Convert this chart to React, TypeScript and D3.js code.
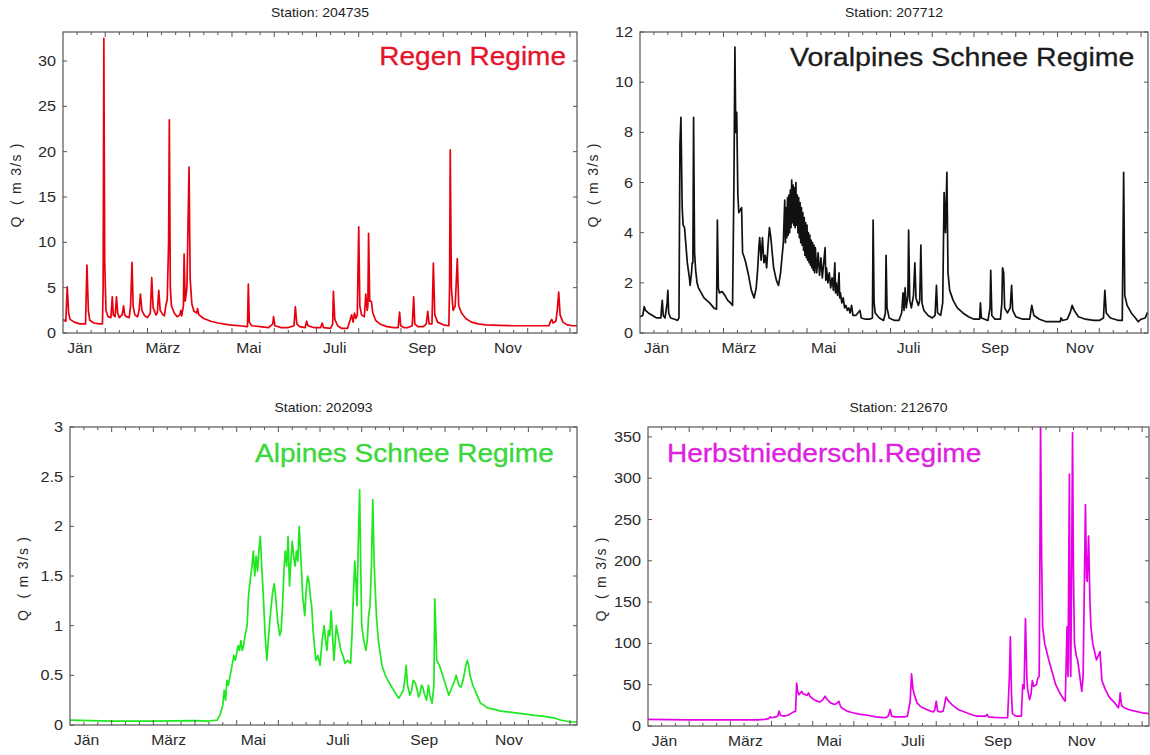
import React, { useEffect, useRef } from 'react';
import * as d3 from 'd3';

// day of year where each month starts, and the months that get a label
const monthStarts = [0, 31, 59, 90, 120, 151, 181, 212, 243, 273, 304, 334];
const monthLabels = ['Jän', 'März', 'Mai', 'Juli', 'Sep', 'Nov'];
const labelMonthIdx = [0, 2, 4, 6, 8, 10];

// [day of year, Q in m3/s]
const regenFlow: [number, number][] = [
  [0, 1.5], [2, 1.3], [3, 5.1], [4, 2.2], [5, 1.5], [8, 1.2], [12, 1.0], [16, 1.0], [17, 7.5], [18, 2.5], [19, 1.4],
  [22, 1.1], [26, 1.0], [28, 1.0], [28.5, 5], [29, 32.5], [29.6, 8], [30.5, 2.5], [32, 1.8], [34, 1.7], [35, 4.0],
  [35.7, 2.0], [37, 1.8], [38, 4.0], [38.8, 2.2], [40, 1.7], [42, 2.0], [43, 3.0], [43.8, 2.0], [45, 1.8], [47, 1.7],
  [48, 3], [49, 7.8], [49.8, 3], [51, 2], [53, 1.8], [54, 2.5], [55, 4.3], [56, 2.5], [58, 1.9], [60, 1.7], [62, 2.2],
  [63, 6.1], [64, 2.8], [66, 2.0], [67, 2.2], [68, 4.7], [69, 2.5], [71, 2.0], [72, 1.9], [73, 3], [74, 3.7], [75, 10],
  [75.5, 23.5], [76.2, 5], [77, 3], [79, 2.2], [81, 1.8], [83, 2.0], [83.7, 2.5], [84.3, 1.9], [85.5, 3], [86, 8.7],
  [86.8, 3.5], [88, 5], [89.5, 18.3], [90.3, 6], [91.5, 3.2], [93, 2.4], [95, 2.2], [95.5, 2.7], [96.5, 2.0], [100, 1.6],
  [105, 1.3], [110, 1.1], [118, 0.9], [125, 0.8], [131, 0.7], [131.6, 5.4], [132.3, 1.2], [134, 0.8], [140, 0.7],
  [146, 0.6], [149, 1.0], [149.5, 1.8], [150.5, 0.8], [155, 0.6], [160, 0.6], [164, 0.8], [165, 2.9], [166, 1.0],
  [168, 0.7], [172, 0.6], [173, 1.3], [174, 0.8], [178, 0.6], [183, 0.6], [184, 1.1], [185, 0.6], [190, 0.5],
  [191.5, 1], [192, 4.6], [193, 1.5], [195, 0.8], [198, 0.5], [202, 0.5], [204, 1.5], [205, 2.0], [206, 1.2],
  [207, 2.2], [208, 1.6], [209, 2], [209.5, 7], [210, 11.7], [210.8, 3], [212, 2], [214, 1.8], [215, 4.3], [216, 2.5],
  [216.5, 3], [217, 11.0], [217.8, 3.5], [219, 3.5], [220, 2.2], [222, 1.4], [225, 1.0], [230, 0.7], [235, 0.6],
  [238, 0.6], [239, 2.3], [239.8, 0.8], [242, 0.6], [245, 0.6], [248, 0.8], [249, 4.0], [249.8, 1.0], [252, 0.7],
  [256, 0.7], [258, 1.0], [259, 2.4], [260, 1.0], [262, 1.0], [263, 7.7], [264, 2], [266, 1.2], [270, 0.9], [274, 0.8],
  [274.5, 5], [275, 20.2], [275.8, 5], [277, 2.5], [278.5, 3], [280, 8.2], [281, 3], [283, 2.2], [286, 1.6],
  [290, 1.2], [295, 1.0], [300, 0.9], [310, 0.85], [320, 0.8], [330, 0.8], [340, 0.8], [345, 0.8], [346, 1.2],
  [347, 1.5], [348, 1.1], [350, 1.3], [351, 2.5], [352, 4.5], [353, 2.0], [355, 1.2], [358, 0.9], [362, 0.8], [365, 0.8]
];

const voralpFlow: [number, number][] = [
  [0, 0.65], [2, 0.7], [3, 1.05], [4, 0.9], [6, 0.8], [9, 0.7], [12, 0.6], [15, 0.6], [15.5, 1.0], [16, 1.3],
  [16.7, 0.7], [18, 0.6], [19.5, 1.2], [20, 1.7], [20.6, 0.8], [22, 0.6], [25, 0.55], [27, 0.5], [28, 0.6],
  [28.7, 7.5], [29.4, 8.6], [30.3, 5], [31, 4.3], [32, 4.2], [33, 3.5], [34, 2.8], [35.5, 2.2], [36, 1.9], [37, 2.4],
  [37.5, 2.8], [38, 2.8], [38.5, 8.6], [39.2, 3.2], [40, 2.5], [41, 2.0], [42, 1.8], [44, 1.6], [46, 1.4], [50, 1.2],
  [53, 1.0], [55, 0.95], [55.6, 4.5], [56.3, 1.8], [57, 1.6], [59, 1.65], [61, 1.5], [63, 1.3], [65, 1.2], [66.5, 1.1],
  [67.5, 6], [68.2, 11.4], [68.8, 8], [69.5, 8.8], [70.3, 5.5], [71, 4.8], [72, 4.9], [73, 5.0], [73.7, 3.2], [75, 3.0],
  [76, 2.8], [78, 2.3], [80, 1.7], [82, 1.4], [83.5, 1.8], [84.5, 2.5], [85.5, 3.5], [86, 3.8], [87, 2.9], [88, 3.8],
  [89, 2.8], [90, 3.1], [91, 2.6], [92, 3.5], [93, 4.2], [94, 3.8], [95, 3.2], [96, 2.6], [98, 2.1], [99.5, 1.9],
  [101, 2.4], [102, 3.0], [103, 3.6],
  [104, 5.3], [104.5, 3.6], [105, 5.0], [105.5, 3.8], [106, 5.4], [106.5, 3.9], [107, 5.5], [107.5, 4.0], [108, 5.7],
  [108.5, 4.2], [109, 6.1], [109.5, 4.4], [110, 5.9], [110.5, 4.3], [111, 5.8], [111.5, 4.2], [112, 6.0], [112.5, 4.3],
  [113, 5.5], [113.5, 4.0], [114, 5.4], [114.5, 3.8], [115, 5.2], [115.5, 3.6], [116, 5.0], [116.5, 3.5], [117, 4.8],
  [117.5, 3.3], [118, 4.6], [118.5, 3.1], [119, 4.4], [119.5, 3.0], [120, 4.3], [120.5, 2.9], [121, 4.0], [121.5, 2.8],
  [122, 3.9], [122.5, 2.7], [123, 3.7], [123.5, 2.6], [124, 3.6], [124.5, 2.5], [125, 3.5], [125.5, 2.4],
  [126, 3.4], [127, 2.4], [128, 3.2], [129, 2.3], [130, 3.0], [131, 2.2], [132, 2.8], [133, 3.4], [133.5, 2.1],
  [134, 2.6], [135, 2.0], [136, 2.4], [137, 1.8], [138, 2.2], [139, 1.7], [140, 2.8], [140.5, 1.6], [141, 2.0],
  [142, 1.5], [143, 2.4], [143.5, 1.4], [144, 1.6], [145, 1.2], [146, 1.4], [147, 1.0], [148, 1.1], [149, 0.9],
  [150, 1.0], [151, 0.8], [152, 1.1], [153, 0.7], [155, 0.7], [158, 0.9], [159, 0.6], [162, 0.55], [165, 0.55],
  [167, 0.6], [167.5, 4.5], [168.2, 1.2], [169, 0.8], [172, 0.6], [175, 0.5], [176.3, 0.8], [176.8, 3.1], [177.5, 1.0],
  [179, 0.6], [183, 0.5], [186, 0.5], [188, 0.8], [189, 1.6], [189.7, 0.9], [190.5, 1.8], [191.3, 1.0], [192.5, 1.5],
  [193, 4.1], [193.8, 1.3], [195, 1.0], [196.5, 1.5], [197.5, 2.8], [198.3, 1.4], [200, 1.1], [201, 1.3], [201.8, 3.5],
  [202.6, 1.2], [204, 0.9], [207, 0.7], [210, 0.6], [212, 0.7], [213, 1.9], [213.8, 0.8], [216, 0.7], [217.5, 1.2],
  [218.5, 5.6], [219.5, 4.0], [220.5, 6.4], [221.3, 2.4], [222.5, 1.7], [225, 1.3], [228, 1.0], [232, 0.8],
  [236, 0.65], [240, 0.55], [244, 0.55], [244.6, 1.2], [245.3, 0.6], [250, 0.5], [251.5, 1.0], [252, 2.5],
  [252.8, 0.7], [255, 0.55], [259, 0.55], [260, 1.2], [260.5, 2.6], [261.3, 2.4], [262, 1.0], [264, 0.8], [266, 1.0],
  [267, 1.9], [267.8, 0.9], [270, 0.65], [275, 0.55], [280, 0.55], [281.5, 1.1], [283, 0.7], [287, 0.55], [292, 0.45],
  [298, 0.45], [302, 0.45], [302.5, 0.6], [303.5, 0.5], [307, 0.55], [309, 0.8], [310.5, 1.1], [312, 0.9],
  [315, 0.65], [320, 0.55], [326, 0.5], [330, 0.5], [333, 0.6], [334, 1.7], [335, 0.8], [338, 0.6], [344, 0.5],
  [346.5, 0.5], [347.5, 6.4], [348.3, 1.5], [350, 1.1], [353, 0.8], [356, 0.6], [358, 0.45], [360, 0.55], [363, 0.6],
  [364.5, 0.8], [365, 0.75]
];

const alpinFlow: [number, number][] = [
  [0, 0.05], [30, 0.04], [60, 0.04], [90, 0.045], [100, 0.04], [106, 0.05], [108, 0.1], [110, 0.2], [111, 0.35],
  [112, 0.25], [113, 0.45], [114, 0.4], [116, 0.55], [118, 0.7], [119, 0.65], [121, 0.8], [122, 0.75], [123, 0.85],
  [124, 0.75], [125, 0.8], [126, 0.9], [127.5, 1.0], [128.5, 1.3], [129.7, 1.45], [131, 1.6], [132, 1.75], [133, 1.5],
  [134, 1.7], [135, 1.55], [136, 1.75], [137, 1.9], [138, 1.6], [139, 1.35], [140.5, 0.9], [141.7, 0.65], [143, 0.9],
  [144.5, 1.15], [146, 1.35], [147, 1.42], [148, 1.3], [149.5, 1.05], [151, 0.9], [152, 0.95], [153, 1.2], [154, 1.55],
  [155, 1.75], [156, 1.6], [157, 1.9], [158, 1.4], [159, 1.65], [160, 1.85], [161, 1.7], [162, 1.6], [163, 1.75],
  [164, 1.65], [165, 2.0], [166.5, 1.6], [167.5, 1.3], [169, 1.1], [170, 1.35], [171, 1.5], [172, 1.45], [173, 1.3],
  [174, 1.2], [175, 0.95], [177, 0.65], [178.5, 0.7], [180, 0.6], [181.5, 0.85], [183, 1.0], [184, 0.85], [185, 0.75],
  [186, 0.95], [187, 0.9], [188, 1.15], [189, 0.9], [190, 0.65], [191, 0.85], [191.7, 1.0], [193, 0.9], [195, 0.75],
  [196.5, 0.7], [198, 0.62], [200, 0.65], [202, 0.62], [203, 0.9], [204, 1.3], [205, 1.65], [206, 1.4], [206.6, 1.2],
  [207.5, 1.8], [208.5, 2.37], [209.3, 1.6], [210, 1.0], [211.5, 0.85], [213, 0.75], [214, 0.85], [215, 1.1],
  [216, 1.2], [217, 1.6], [218, 2.27], [219, 1.6], [220.6, 1.1], [222, 0.85], [224.6, 0.6], [227, 0.5], [230, 0.42],
  [233, 0.35], [236.6, 0.27], [238, 0.3], [240, 0.35], [241, 0.45], [242, 0.6], [243, 0.4], [244.7, 0.3], [246, 0.35],
  [247, 0.45], [248.7, 0.42], [250, 0.35], [251, 0.28], [252, 0.32], [253, 0.4], [254, 0.38], [255, 0.32],
  [256.7, 0.25], [258, 0.4], [259, 0.3], [260.7, 0.22], [262, 0.4], [262.6, 1.27], [263.5, 0.9], [264, 0.65],
  [266, 0.6], [268.7, 0.48], [271, 0.38], [272.7, 0.3], [275, 0.38], [277, 0.45], [278, 0.5], [279, 0.45], [280, 0.4],
  [281.5, 0.38], [283, 0.45], [285, 0.6], [286, 0.65], [287, 0.6], [288, 0.5], [290, 0.4], [293, 0.3], [295.5, 0.22],
  [298, 0.2], [300.8, 0.17], [305, 0.16], [310, 0.14], [316.8, 0.13], [322, 0.12], [328, 0.11], [333, 0.1],
  [340, 0.09], [345, 0.08], [349, 0.07], [353, 0.05], [357, 0.04], [360, 0.03], [365, 0.03]
];

const herbstFlow: [number, number][] = [
  [0, 8], [30, 7.5], [60, 7.5], [80, 7.5], [85, 8], [88, 9], [89, 11], [90, 10], [93, 11], [94.5, 12], [95.5, 18],
  [96.5, 13], [99, 12], [102, 13], [104, 15], [106, 17], [107.5, 18], [108.3, 52], [109, 42], [110, 38], [111, 40],
  [112, 42], [113, 39], [114.7, 38], [116, 37], [117, 40], [118, 36], [120, 33], [122, 31], [125, 29], [127, 31],
  [129, 36], [130, 33], [133, 28], [136, 26], [138, 28], [139, 30], [140, 25], [141, 22], [145, 18], [149, 16],
  [155, 14], [160, 13], [166, 11], [170, 10.5], [173, 10], [175, 12], [176.5, 20], [177.5, 12], [180, 11], [185, 11],
  [187, 11], [189, 12], [191, 30], [192, 63], [193, 45], [194, 38], [196, 28], [199, 23], [203, 20], [206, 18],
  [208, 17], [209, 20], [210, 30], [211, 18], [213, 17], [215, 18], [216, 25], [217, 35], [219, 30], [222, 25],
  [226, 20], [232, 16], [237, 13], [240, 12], [246, 12], [247, 14], [248, 11], [252, 10.5], [258, 10], [262, 10],
  [263.3, 60], [264, 108], [264.8, 40], [265.5, 15], [268, 12], [272, 12], [273, 50], [274, 45], [275, 130], [276, 60],
  [276.5, 45], [278, 32], [279, 38], [280, 55], [281, 48], [283, 50], [284, 58], [285, 60], [285.5, 200], [286, 366],
  [286.8, 200], [287.5, 120], [289, 100], [292, 80], [295, 62], [297, 50], [300, 40], [303, 32], [304, 30],
  [305.3, 120], [306, 60], [307, 305], [307.6, 80], [308, 60], [308.7, 200], [309.3, 355], [310, 180], [310.7, 100],
  [312, 85], [313, 80], [315, 55], [316, 42], [317, 60], [318.7, 268], [319.5, 180], [320, 175], [321, 230], [322, 150],
  [322.7, 120], [324, 100], [326.7, 80], [328, 85], [329.3, 90], [330.7, 55], [333, 45], [336, 35], [340, 28],
  [342.7, 22], [343.5, 30], [344, 40], [345, 25], [347, 22], [350, 20], [354.7, 18], [360, 16], [365, 15]
];

const regenTicks = [0, 5, 10, 15, 20, 25, 30];
const voralpTicks = [0, 2, 4, 6, 8, 10, 12];
const alpinTicks = [0, 0.5, 1, 1.5, 2, 2.5, 3];
const herbstTicks = [0, 50, 100, 150, 200, 250, 300, 350];

const panels = [
  { station: '204735', regime: 'Regen Regime', data: regenFlow, ticks: regenTicks, yMax: 33.2,
    x0: 63, x1: 577, y0: 32, y1: 333, line: '#e8000e', textColor: '#e5142c',
    rx: 566, ry: 65, anchor: 'end', rsize: 25 },
  { station: '207712', regime: 'Voralpines Schnee Regime', data: voralpFlow, ticks: voralpTicks, yMax: 12,
    x0: 640, x1: 1148, y0: 32, y1: 333, line: '#111', textColor: '#1c1c1c',
    rx: 790, ry: 66, anchor: 'start', rsize: 25.5 },
  { station: '202093', regime: 'Alpines Schnee Regime', data: alpinFlow, ticks: alpinTicks, yMax: 3,
    x0: 70, x1: 577, y0: 427, y1: 725, line: '#1ee81e', textColor: '#38d838',
    rx: 255, ry: 462, anchor: 'start', rsize: 25 },
  { station: '212670', regime: 'Herbstniederschl.Regime', data: herbstFlow, ticks: herbstTicks, yMax: 362,
    x0: 648, x1: 1149, y0: 427, y1: 726, line: '#e600e6', textColor: '#e020e0',
    rx: 667, ry: 462, anchor: 'start', rsize: 25 }
];

const FONT = '"Liberation Sans", Arial, sans-serif';
const STRETCH = 'scale(1.12,1)';

export default function App () {
  const ref = useRef<SVGSVGElement>(null);

  useEffect(() => {
    const svg = d3.select(ref.current);
    svg.selectAll('*').remove();
    svg.append('rect').attr('width', 1150).attr('height', 755).attr('fill', '#fff');

    panels.forEach((p, pi) => {
      const x = d3.scaleLinear().domain([0, 365]).range([p.x0, p.x1]);
      const y = d3.scaleLinear().domain([0, p.yMax]).range([p.y1, p.y0]);
      const g = svg.append('g');

      // clip so the big peaks stop at the frame
      const clipId = 'clip' + pi;
      g.append('clipPath').attr('id', clipId)
        .append('rect')
        .attr('x', p.x0).attr('y', p.y0)
        .attr('width', p.x1 - p.x0).attr('height', p.y1 - p.y0);

      const line = d3.line<[number, number]>()
        .x(d => x(d[0]))
        .y(d => y(d[1]));

      g.append('path')
        .attr('clip-path', 'url(#' + clipId + ')')
        .attr('d', line(p.data))
        .attr('fill', 'none')
        .attr('stroke', p.line)
        .attr('stroke-width', 1.7)
        .attr('stroke-linejoin', 'round');

      // frame
      g.append('rect')
        .attr('x', p.x0).attr('y', p.y0)
        .attr('width', p.x1 - p.x0).attr('height', p.y1 - p.y0)
        .attr('fill', 'none').attr('stroke', '#555').attr('stroke-width', 1.2);

      // x ticks every 10 days, longer every 30, on bottom and top
      const dayTicks = d3.range(10, 365, 10);
      dayTicks.forEach(d => {
        const len = d % 30 === 0 ? 5 : 3;
        g.append('line').attr('x1', x(d)).attr('x2', x(d))
          .attr('y1', p.y1).attr('y2', p.y1 - len).attr('stroke', '#555');
        g.append('line').attr('x1', x(d)).attr('x2', x(d))
          .attr('y1', p.y0).attr('y2', p.y0 + len).attr('stroke', '#555');
      });

      // y ticks left and right
      p.ticks.forEach(t => {
        g.append('line').attr('x1', p.x0).attr('x2', p.x0 + 4)
          .attr('y1', y(t)).attr('y2', y(t)).attr('stroke', '#555');
        g.append('line').attr('x1', p.x1).attr('x2', p.x1 - 4)
          .attr('y1', y(t)).attr('y2', y(t)).attr('stroke', '#555');
        g.append('text')
          .attr('transform', 'translate(' + (p.x0 - 7) + ',' + (y(t) + 5) + ') ' + STRETCH)
          .attr('text-anchor', 'end')
          .attr('font-family', FONT)
          .attr('font-size', 14.5)
          .attr('fill', '#2a2a2a')
          .text(String(t));
      });

      // month labels
      labelMonthIdx.forEach((m, i) => {
        g.append('text')
          .attr('transform', 'translate(' + x(monthStarts[m] + 12) + ',' + (p.y1 + 20) + ') ' + STRETCH)
          .attr('text-anchor', 'middle')
          .attr('font-family', FONT)
          .attr('font-size', 14)
          .attr('fill', '#2a2a2a')
          .text(monthLabels[i]);
      });

      // station title
      g.append('text')
        .attr('transform', 'translate(' + ((p.x0 + p.x1) / 2) + ',' + (p.y0 - 15) + ') ' + STRETCH)
        .attr('text-anchor', 'middle')
        .attr('font-family', FONT)
        .attr('font-size', 12.5)
        .attr('fill', '#222')
        .text('Station: ' + p.station);

      // y axis label
      g.append('text')
        .attr('transform', 'translate(' + (p.x0 - 42) + ',' + ((p.y0 + p.y1) / 2 + 3) + ') rotate(-90)')
        .attr('text-anchor', 'middle')
        .attr('font-family', FONT)
        .attr('font-size', 14)
        .attr('fill', '#2a2a2a')
        .attr('textLength', 84)
        .attr('lengthAdjust', 'spacing')
        .style('white-space', 'pre')
        .text('Q  ( m 3/s )');

      // regime label
      g.append('text')
        .attr('transform', 'translate(' + p.rx + ',' + p.ry + ') ' + STRETCH)
        .attr('text-anchor', p.anchor)
        .attr('font-family', FONT)
        .attr('font-size', p.rsize)
        .attr('fill', p.textColor)
        .attr('stroke', p.textColor)
        .attr('stroke-width', 0.3)
        .text(p.regime);
    });
  }, []);

  return (
    <svg ref={ref} width={1150} height={755}
      style={{ position: 'absolute', left: 0, top: 0, display: 'block' }} />
  );
}
